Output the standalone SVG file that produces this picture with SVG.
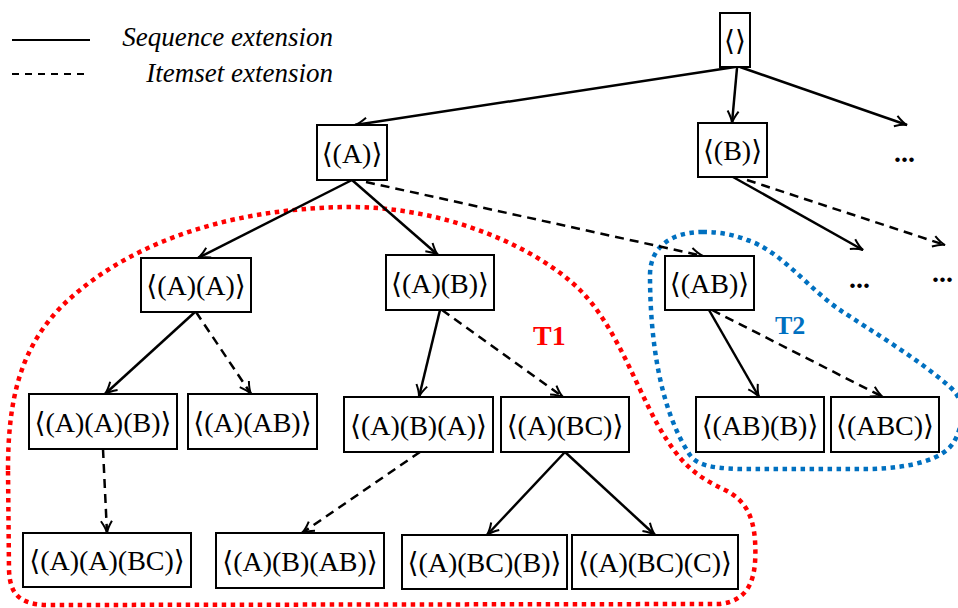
<svg xmlns="http://www.w3.org/2000/svg" width="958" height="608" viewBox="0 0 958 608">
  <style>
    .box { fill: #fff; stroke: #000; stroke-width: 2; }
    .lbl { font-family: "Liberation Serif", "DejaVu Serif", serif; font-size: 28px; text-anchor: middle; fill: #000; }
    .edge { stroke: #000; stroke-width: 2.5; fill: none; marker-end: url(#arr); }
    .dash { stroke-dasharray: 9 6; }
    .legend { font-family: "Liberation Serif", serif; font-style: italic; font-size: 27px; text-anchor: end; fill: #000; }
    .dots { font-family: "Liberation Serif", serif; font-size: 28px; font-weight: bold; fill: #000; }
    .hull { fill: none; stroke-width: 4.5; stroke-dasharray: 4.5 4.5; }
  </style>
  <defs>
    <marker id="arr" markerWidth="16" markerHeight="16" viewBox="-13 -8 16 16" refX="0" refY="0" orient="auto" markerUnits="userSpaceOnUse">
      <path d="M-12,-5.5 Q-5,-1 0,0 Q-5,1 -12,5.5" fill="none" stroke="#000" stroke-width="2" stroke-dasharray="none"/>
    </marker>
  </defs>

  <rect width="958" height="608" fill="#fff"/>

  <!-- legend -->
  <g id="legend">
    <line x1="12" y1="40" x2="90" y2="40" stroke="#000" stroke-width="2"/>
    <line x1="12" y1="74" x2="90" y2="74" stroke="#000" stroke-width="2" stroke-dasharray="7 6"/>
    <text class="legend" x="333" y="46">Sequence extension</text>
    <text class="legend" x="333" y="82">Itemset extension</text>
  </g>

  <!-- subtree outlines -->
  <g id="t1">
    <path class="hull" stroke="#ff0000" d="M 8,470 C 8,400 20,350 60,308 C 120,248 220,208 350,207 C 450,207 540,250 580,290 C 620,330 640,400 667,440 C 685,468 700,478 725,490 C 745,500 753,515 755,540 C 757,575 752,600 720,604 L 50,605 C 20,605 10,595 9,570 Z"/>
    <text x="533" y="345" font-family="Liberation Serif, serif" font-size="28" font-weight="bold" fill="#ff0000">T1</text>
  </g>
  <g id="t2">
    <path class="hull" stroke="#0070c0" d="M 703,232 C 670,232 650,248 650,275 C 650,340 660,410 690,455 C 697,465 710,468 740,469 L 870,469 C 910,468 945,460 955,440 C 965,420 965,400 950,387 C 920,360 870,330 840,310 C 810,290 780,250 747,240 C 735,235 720,232 703,232 Z"/>
    <text x="775" y="334" font-family="Liberation Serif, serif" font-size="26" font-weight="bold" fill="#0070c0">T2</text>
  </g>

  <!-- connectors -->
  <g id="edges">
    <line class="edge" x1="735" y1="67" x2="355" y2="125"/>
    <line class="edge" x1="737" y1="68" x2="732" y2="123"/>
    <line class="edge" x1="740" y1="67" x2="907" y2="125"/>
    <line class="edge" x1="733" y1="177" x2="863" y2="250"/>
    <line class="edge dash" x1="747" y1="180" x2="945" y2="245"/>
    <line class="edge" x1="352" y1="180" x2="198" y2="258"/>
    <line class="edge" x1="352" y1="180" x2="438" y2="255"/>
    <line class="edge dash" x1="366" y1="182" x2="703" y2="256"/>
    <line class="edge" x1="195" y1="312" x2="105" y2="394"/>
    <line class="edge dash" x1="196" y1="312" x2="251" y2="394"/>
    <line class="edge dash" x1="103" y1="449" x2="107" y2="533"/>
    <line class="edge" x1="440" y1="310" x2="419" y2="397"/>
    <line class="edge dash" x1="442" y1="310" x2="563" y2="397"/>
    <line class="edge dash" x1="420" y1="452" x2="302" y2="533"/>
    <line class="edge" x1="565" y1="452" x2="487" y2="535"/>
    <line class="edge" x1="565" y1="452" x2="655" y2="535"/>
    <line class="edge" x1="709" y1="310" x2="759" y2="397"/>
    <line class="edge dash" x1="712" y1="310" x2="883" y2="397"/>
  </g>

  <!-- continuation marks -->
  <g id="more">
    <text class="dots" x="894" y="162">...</text>
    <text class="dots" x="849" y="288">...</text>
    <text class="dots" x="932" y="282">...</text>
  </g>

  <!-- nodes -->
  <g id="n-root"><rect class="box" x="720" y="13" width="30" height="54"/><text class="lbl" x="735" y="50">⟨⟩</text></g>
  <g id="n-a"><rect class="box" x="317" y="125" width="70" height="55"/><text class="lbl" x="352" y="163">⟨(A)⟩</text></g>
  <g id="n-b"><rect class="box" x="698" y="123" width="69" height="54"/><text class="lbl" x="732.5" y="160">⟨(B)⟩</text></g>
  <g id="n-a-a"><rect class="box" x="141" y="258" width="110" height="54"/><text class="lbl" x="196" y="295">⟨(A)(A)⟩</text></g>
  <g id="n-a-b"><rect class="box" x="386" y="255" width="108" height="55"/><text class="lbl" x="440" y="293">⟨(A)(B)⟩</text></g>
  <g id="n-ab"><rect class="box" x="665" y="256" width="89" height="54"/><text class="lbl" x="709.5" y="293">⟨(AB)⟩</text></g>
  <g id="n-a-a-b"><rect class="box" x="29" y="394" width="148" height="55"/><text class="lbl" x="103" y="432">⟨(A)(A)(B)⟩</text></g>
  <g id="n-a-ab"><rect class="box" x="188" y="394" width="129" height="55"/><text class="lbl" x="252.5" y="432">⟨(A)(AB)⟩</text></g>
  <g id="n-a-b-a"><rect class="box" x="344" y="397" width="149" height="55"/><text class="lbl" x="418.5" y="435">⟨(A)(B)(A)⟩</text></g>
  <g id="n-a-bc"><rect class="box" x="501" y="397" width="128" height="55"/><text class="lbl" x="565" y="435">⟨(A)(BC)⟩</text></g>
  <g id="n-ab-b"><rect class="box" x="696" y="397" width="128" height="55"/><text class="lbl" x="760" y="435">⟨(AB)(B)⟩</text></g>
  <g id="n-abc"><rect class="box" x="831" y="397" width="108" height="55"/><text class="lbl" x="885" y="435">⟨(ABC)⟩</text></g>
  <g id="n-a-a-bc"><rect class="box" x="23" y="533" width="168" height="54"/><text class="lbl" x="107" y="570">⟨(A)(A)(BC)⟩</text></g>
  <g id="n-a-b-ab"><rect class="box" x="216" y="533" width="168" height="55"/><text class="lbl" x="300" y="571">⟨(A)(B)(AB)⟩</text></g>
  <g id="n-a-bc-b"><rect class="box" x="402" y="535" width="165" height="54"/><text class="lbl" x="484.5" y="572">⟨(A)(BC)(B)⟩</text></g>
  <g id="n-a-bc-c"><rect class="box" x="572" y="535" width="166" height="54"/><text class="lbl" x="655" y="572">⟨(A)(BC)(C)⟩</text></g>
</svg>
